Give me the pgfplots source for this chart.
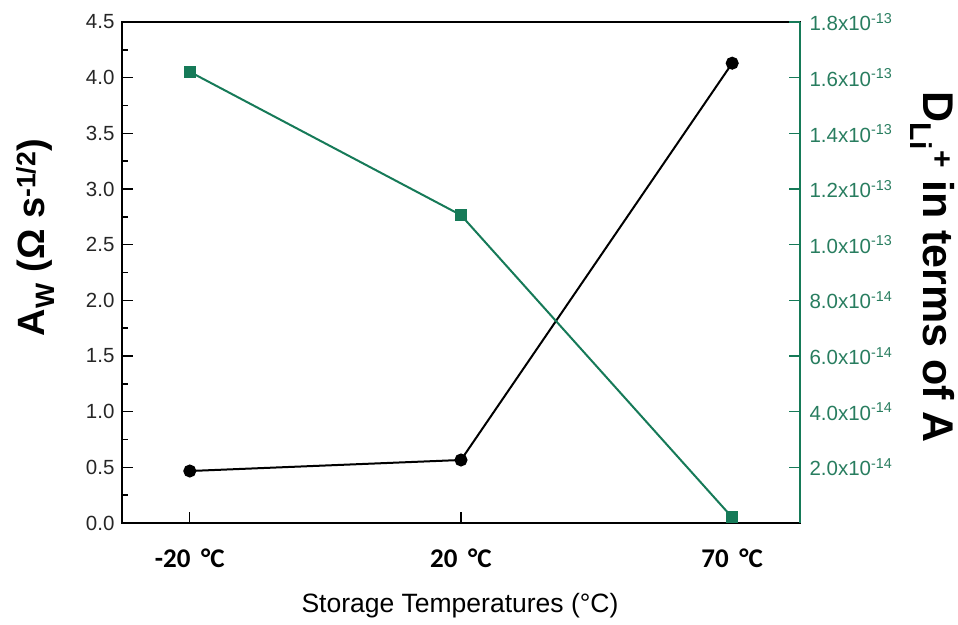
\documentclass[border=0pt]{standalone}
\usepackage{fontspec}
\setmainfont{Liberation Sans}
\newfontfamily\calibri{Carlito}
\usepackage{pgfplots}
\pgfplotsset{compat=1.18}
\definecolor{dgreen}{RGB}{22,122,88}
\definecolor{lgreen}{RGB}{40,125,95}
\begin{document}
\begin{tikzpicture}
\begin{axis}[
  name=ax,
  scale only axis, width=678pt, height=501pt,
  xmin=-0.25, xmax=2.25, ymin=0, ymax=4.5,
  xtick={0,1,2}, xticklabels={-20 \,°C,20 \,°C,70 \,°C},
  xtick pos=bottom, ytick pos=left,
  ytick={0,0.5,...,4.5},
  minor y tick num=1,
  tick align=inside,
  major tick length=11pt, minor tick length=6pt,
  axis line style={line width=1.7pt},
  every tick/.style={line width=1.4pt, black},
  /pgf/number format/assume math mode=true,
  /pgf/number format/fixed, /pgf/number format/fixed zerofill,
  /pgf/number format/precision=1,
  yticklabel style={font=\fontsize{20.5}{22}\selectfont, color=black!85, xshift=-4pt},
  xticklabel style={font=\calibri\bfseries\fontsize{27}{29}\selectfont, yshift=-22pt},
  ylabel={\textbf{A\textsubscript{W} (Ω s\textsuperscript{-1/2})}},
  ylabel style={font=\fontsize{38}{40}\selectfont, at={(axis description cs:-0.128,0.57)}, anchor=center},
  xlabel={Storage Temperatures (°C)},
  xlabel style={font=\fontsize{26.5}{28}\selectfont, at={(axis description cs:0.4985,-0.164)}, anchor=center},
]
\addplot[black, line width=2pt, mark=*, mark size=5.5pt] coordinates {
  (0,0.467) (1,0.566) (2,4.13)
};
\end{axis}
\begin{axis}[
  scale only axis, width=678pt, height=501pt,
  xmin=-0.25, xmax=2.25, ymin=0, ymax=18,
  axis x line=none,
  axis y line*=right,
  ytick={2,4,...,18},
  yticklabels={2.0x10\textsuperscript{-14},4.0x10\textsuperscript{-14},6.0x10\textsuperscript{-14},8.0x10\textsuperscript{-14},1.0x10\textsuperscript{-13},1.2x10\textsuperscript{-13},1.4x10\textsuperscript{-13},1.6x10\textsuperscript{-13},1.8x10\textsuperscript{-13}},
  tick align=inside,
  major tick length=11pt,
  axis line style={line width=1.7pt, dgreen},
  every tick/.style={line width=1.4pt, dgreen},
  yticklabel style={font=\fontsize{20.5}{22}\selectfont, color=lgreen, xshift=6pt},
  ylabel={\textbf{D\textsubscript{Li}\textsuperscript{+} in terms of A}},
  ylabel style={font=\fontsize{43}{46}\selectfont, at={(axis description cs:1.195,0.51)}, anchor=center, rotate=180},
]
\addplot[dgreen, line width=2pt, mark=square*, mark size=5pt] coordinates {
  (0,16.21) (1,11.06) (2,0.2)
};
\end{axis}
\useasboundingbox (ax.south west)+(-122pt,-101pt) rectangle +(836pt,523pt);
\end{tikzpicture}
\end{document}
